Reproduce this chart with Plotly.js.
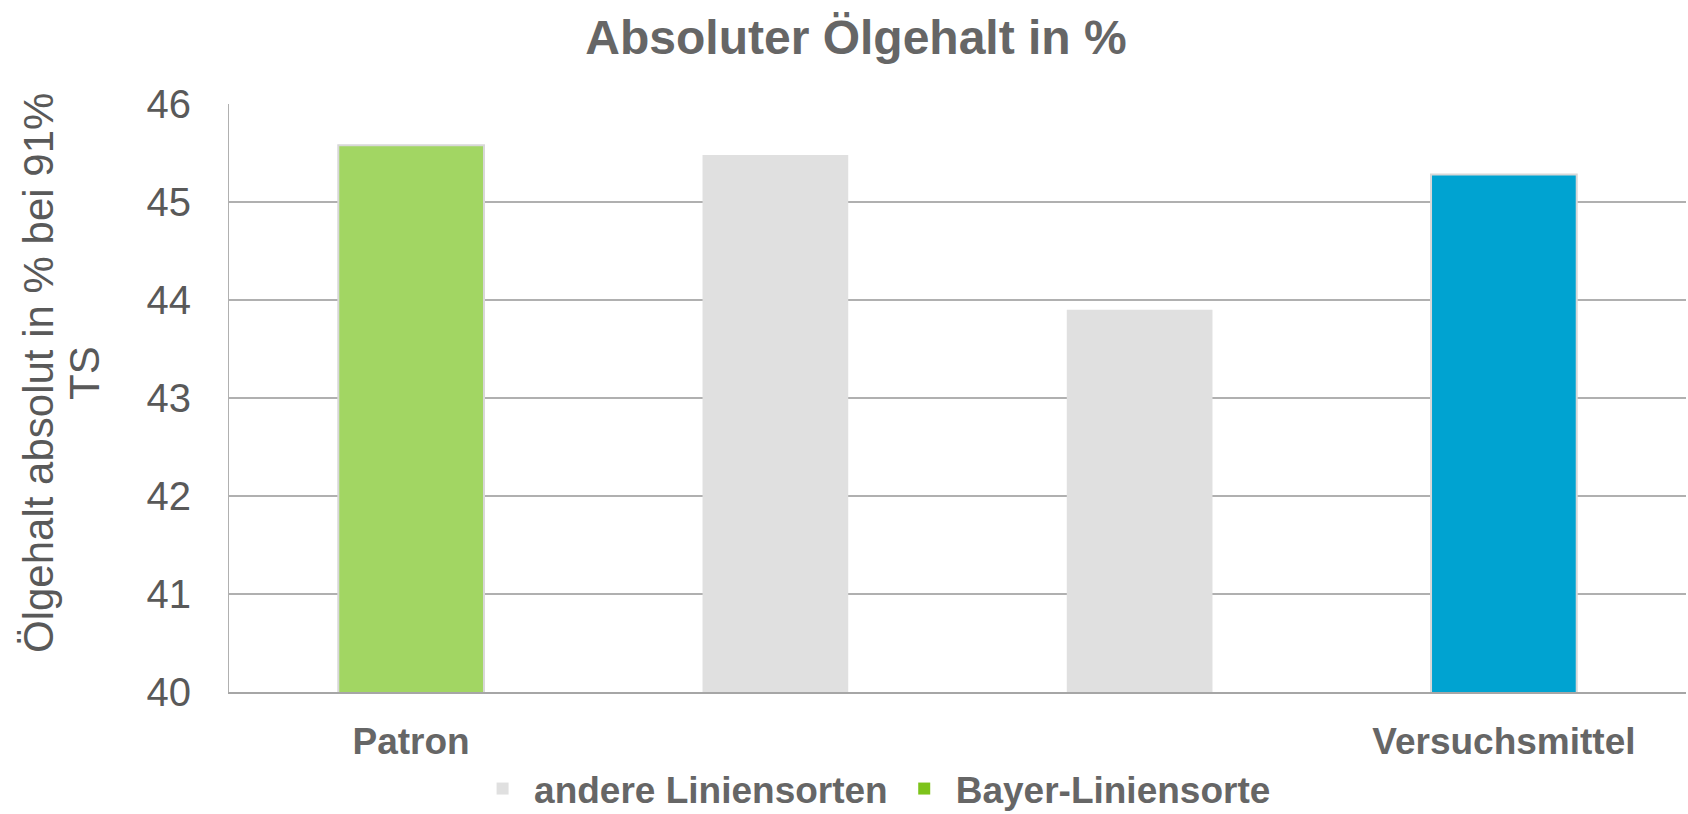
<!DOCTYPE html>
<html><head><meta charset="utf-8">
<script src="https://cdn.plot.ly/plotly-3.0.1.min.js"></script>
<style>html,body{margin:0;padding:0;background:#fff}#chart{width:1688px;height:814px}</style>
</head><body><div id="chart"></div>
<script>
const positions = [0, 1, 2, 3];
const tickLabels = ["Patron", "", "", "Versuchsmittel"];
const patronX = [0];
const patronY = [45.58];
const andereX = [1, 2];
const andereY = [45.48, 43.90];
const versuchX = [3];
const versuchY = [45.28];
const legendNames = ["andere Liniensorten", "Bayer-Liniensorte"];

const border = {color: "#d8d8d8", width: 2};
const W = 0.4;
const traces = [
  {type: "bar", x: patronX, y: patronY, width: W, name: "Patron", showlegend: false,
   marker: {color: "#a2d663", line: border}, hoverinfo: "y"},
  {type: "bar", x: andereX, y: andereY, width: W, name: "<b>" + legendNames[0] + "</b>", legendrank: 1,
   marker: {color: "#e0e0e0", line: {color: "#e0e0e0", width: 0}}, hoverinfo: "y"},
  {type: "bar", x: versuchX, y: versuchY, width: W, name: "Versuchsmittel", showlegend: false,
   marker: {color: "#00a3d1", line: border}, hoverinfo: "y"},
  {type: "bar", x: [null], y: [null], name: "<b>" + legendNames[1] + "</b>", legendrank: 2,
   marker: {color: "#7dc31b"}, hoverinfo: "skip"}
];

const plotL = 229, plotR = 1686, plotT = 104, plotB = 692;
const pw = plotR - plotL, ph = plotB - plotT;
const layout = {
  width: 1688, height: 814,
  margin: {l: plotL, r: 1688 - plotR, t: plotT, b: 814 - plotB, autoexpand: false},
  paper_bgcolor: "#ffffff", plot_bgcolor: "#ffffff",
  font: {family: "Liberation Sans, Arial, sans-serif", color: "#595959"},
  title: {text: "<b>Absoluter Ölgehalt in %</b>", font: {size: 48, color: "#666666"},
          x: 856 / 1688, xref: "container", xanchor: "center", y: 1 - 37 / 814, yref: "container", yanchor: "middle"},
  barmode: "overlay",
  xaxis: {
    range: [-0.5, 3.5], tickmode: "array", tickvals: positions, ticktext: tickLabels.map(t => t ? "<b>" + t + "</b>" : ""),
    tickfont: {size: 37, color: "#666666"}, ticks: "", showgrid: false, zeroline: false,
    showline: true, linecolor: "#a6a6a6", linewidth: 2, ticklabelstandoff: 16, fixedrange: true
  },
  yaxis: {
    range: [40, 46], dtick: 1, tick0: 40, tickfont: {size: 40, color: "#595959"},
    ticks: "", showgrid: true, gridcolor: "#b0b0b0", gridwidth: 2, zeroline: false,
    showline: true, linecolor: "#b0b0b0", linewidth: 1, ticklabelstandoff: 29, fixedrange: true
  },
  legend: {orientation: "h", x: 0.4424, xanchor: "center", y: (plotB - 789) / ph, yanchor: "middle",
           font: {size: 37, color: "#666666"}, traceorder: "normal", itemwidth: 53,
           bgcolor: "rgba(0,0,0,0)"},
  annotations: [
    {text: "Ölgehalt absolut in % bei 91%", xref: "paper", yref: "paper",
     x: (38 - plotL) / pw, y: (plotB - 373) / ph, xanchor: "center", yanchor: "middle",
     textangle: -90, showarrow: false, font: {size: 42, color: "#595959"}},
    {text: "TS", xref: "paper", yref: "paper",
     x: (84 - plotL) / pw, y: (plotB - 373) / ph, xanchor: "center", yanchor: "middle",
     textangle: -90, showarrow: false, font: {size: 42, color: "#595959"}}
  ],
  showlegend: true
};
Plotly.newPlot("chart", traces, layout, {displayModeBar: false, staticPlot: true});
</script></body></html>
